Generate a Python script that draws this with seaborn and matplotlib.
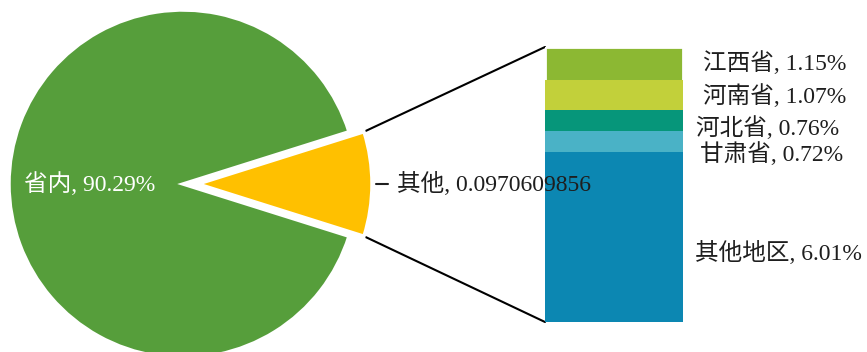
import matplotlib
matplotlib.use('Agg')
import matplotlib.pyplot as plt
from matplotlib.patches import ConnectionPatch
import seaborn as sns
import numpy as np

# ---- data ----
pie_labels = ['省内', '其他']
pie_values = [0.9029, 0.0970609856]
pie_colors = ['#569E3B', '#FFC000']

bar_labels = ['其他地区', '甘肃省', '河北省', '河南省', '江西省']
bar_values = [6.01, 0.72, 0.76, 1.07, 1.15]
bar_colors = ['#0C87B2', '#4AB2C6', '#06967A', '#C2D03A', '#8CB833']
label_nudge_px = [-16, -12, -7, -1, 0]
label_dx_px = [12, 17, 13, 20, 20]

sns.set_theme(style='white')
plt.rcParams['font.family'] = ['Liberation Serif', 'Noto Sans CJK SC']
TEXT = '#1e1e1e'
FS = 17

W, H = 867, 352
fig = plt.figure(figsize=(W / 100, H / 100), dpi=100)

# bar of pie axes (drawn below the pie axes so the pie label can overlap it)
axb = fig.add_axes([545 / W, (H - 322) / H, 138 / W, 275 / H])
axb.set_zorder(1)

ax = fig.add_axes([0, 0, 1, 1])
ax.set_zorder(2)
ax.patch.set_visible(False)

cx, cy, r = 183, H - 184, 174
expl = 15
other_frac = pie_values[1] / sum(pie_values)
start = -other_frac * 360 / 2

wedges, _ = ax.pie(pie_values[::-1], colors=pie_colors[::-1], startangle=start,
                   counterclock=True, radius=r, center=(cx, cy), explode=[expl, 0],
                   wedgeprops=dict(edgecolor='white', linewidth=2.5))
ax.set_xlim(0, W)
ax.set_ylim(0, H)
ax.set_aspect('equal')
ax.axis('off')

# pie labels
ax.text(cx - 0.535 * r, cy, f'{pie_labels[0]}, {pie_values[0] * 100:.2f}%',
        ha='center', va='center', color='white', fontsize=FS)
ow = wedges[0]
ocx, ocy = ow.center
outer_x = ocx + ow.r
ax.plot([outer_x + 4, outer_x + 16], [ocy, ocy], color=TEXT, lw=1.5)
ax.text(outer_x + 25, ocy, f'{pie_labels[1]}, {pie_values[1]}',
        ha='left', va='center', color=TEXT, fontsize=FS)

cum = np.cumsum(bar_values)
for i in reversed(range(len(bar_values))):
    sns.barplot(x=['stack'], y=[cum[i]], color=bar_colors[i], saturation=1,
                width=1, ax=axb,
                edgecolor='white' if i == len(bar_values) - 1 else 'none',
                linewidth=2 if i == len(bar_values) - 1 else 0)
axb.set_xlim(-0.5, 0.5)
axb.set_ylim(0, cum[-1])
axb.axis('off')

bottoms = cum - np.array(bar_values)
for i, (lab, v) in enumerate(zip(bar_labels, bar_values)):
    yc = bottoms[i] + v / 2
    axb.annotate(f'{lab}, {v:.2f}%', xy=(0.5, yc), xytext=(label_dx_px[i], label_nudge_px[i]),
                 textcoords='offset pixels', ha='left', va='center',
                 color=TEXT, fontsize=FS, annotation_clip=False)

# connection lines
th1, th2 = np.deg2rad(ow.theta1), np.deg2rad(ow.theta2)
top_pt = (ocx + ow.r * np.cos(th2), ocy + ow.r * np.sin(th2))
bot_pt = (ocx + ow.r * np.cos(th1), ocy + ow.r * np.sin(th1))
for pt, yb in [(top_pt, cum[-1]), (bot_pt, 0)]:
    con = ConnectionPatch(xyA=(-0.5, yb), coordsA=axb.transData,
                          xyB=pt, coordsB=ax.transData, color='black', lw=1.5)
    fig.add_artist(con)

fig.savefig('out.png', dpi=100)
